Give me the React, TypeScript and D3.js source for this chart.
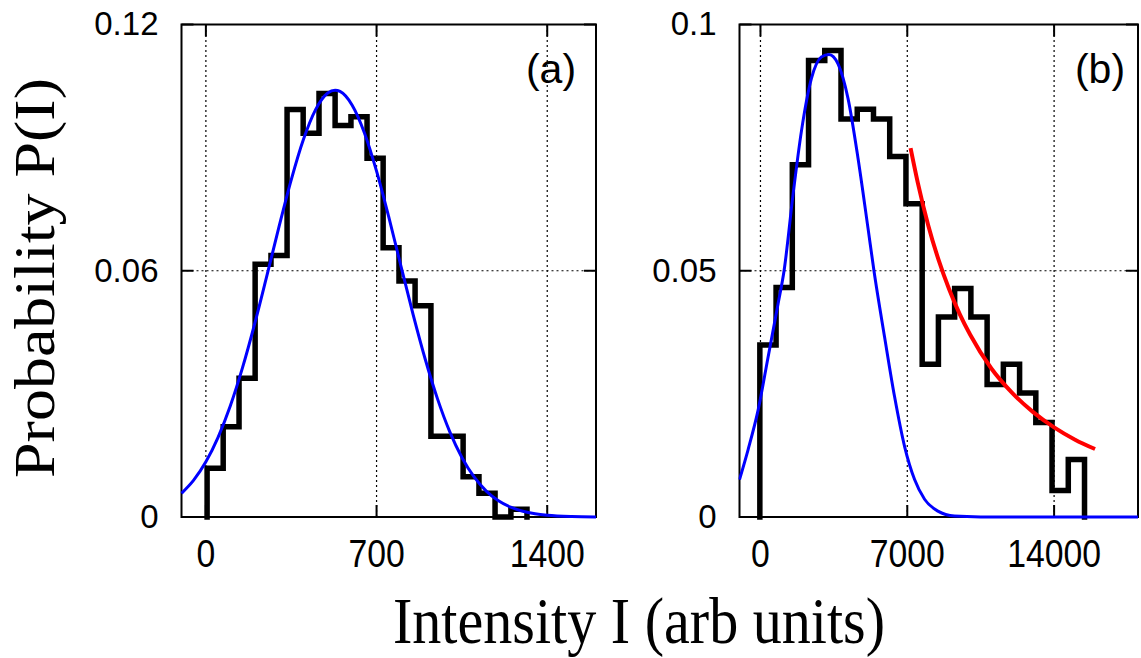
import React from "react";
import * as d3 from "d3";

// ---------- data ----------
// Panel (a): histogram bin edges and probabilities
const A_EDGES = [5, 71, 136, 202, 267, 333, 399, 464, 530, 595, 661, 727, 792, 858, 923, 989, 1055, 1120, 1186, 1251, 1317];
const A_PROB = [0.0119, 0.022, 0.0338, 0.0616, 0.0637, 0.0993, 0.0935, 0.1032, 0.0954, 0.0975, 0.0874, 0.0656, 0.0575, 0.0515, 0.0197, 0.0197, 0.0098, 0.0058, 0, 0.0019];
// Panel (a): blue fitted curve, read at sample intensities
const A_FIT_X = [-100, -50, 0, 50, 100, 150, 200, 250, 300, 350, 400, 450, 500, 530, 550, 600, 650, 700, 750, 800, 850, 900, 950, 1000, 1050, 1100, 1150, 1200, 1250, 1300, 1350, 1400, 1500, 1600];
const A_FIT_Y = [0.00577, 0.00898, 0.01344, 0.01942, 0.02705, 0.03633, 0.04704, 0.05876, 0.07074, 0.08214, 0.09196, 0.09927, 0.10332, 0.104, 0.1037, 0.10035, 0.09364, 0.08426, 0.0731, 0.06115, 0.04933, 0.03838, 0.02878, 0.02081, 0.01451, 0.00975, 0.00632, 0.00395, 0.00238, 0.00139, 0.00078, 0.00042, 0.00011, 0.00002];

// Panel (b): histogram
const B_EDGES = [-30, 744, 1518, 2292, 3066, 3840, 4614, 5388, 6162, 6936, 7710, 8484, 9258, 10032, 10806, 11580, 12354, 13128, 13902, 14676, 15450];
const B_PROB = [0.0349, 0.0466, 0.0715, 0.0927, 0.0947, 0.0808, 0.0828, 0.0808, 0.0732, 0.0636, 0.031, 0.0406, 0.0464, 0.0406, 0.0269, 0.031, 0.0252, 0.0192, 0.0054, 0.0117];
// Panel (b): blue curve
const B_FIT_X = [-1000, -589, -113, 364, 840, 1125, 1554, 1951, 2427, 2903, 3268, 3697, 4173, 4649, 5125, 5411, 5919, 6395, 6872, 7348, 7824, 8459, 9252, 10500, 12000, 18000];
const B_FIT_Y = [0.0076, 0.0137, 0.0217, 0.0325, 0.0433, 0.05, 0.0655, 0.0783, 0.089, 0.0934, 0.0939, 0.092, 0.085, 0.0729, 0.0587, 0.05, 0.0365, 0.0244, 0.0143, 0.0076, 0.0036, 0.0012, 0.0002, 0.00002, 0, 0];
// Panel (b): red tail curve
const B_TAIL_X = [7157, 7500, 8000, 8500, 9000, 9500, 10000, 11000, 12000, 13000, 14000, 15000, 15952];
const B_TAIL_Y = [0.0749, 0.0679, 0.0592, 0.0521, 0.0462, 0.0412, 0.037, 0.0302, 0.0252, 0.0213, 0.0182, 0.0157, 0.0138];

// Axis ticks
const A_XTICKS = [0, 700, 1400];
const A_YTICKS = [0, 0.06, 0.12];
const A_YLABELS = ["0", "0.06", "0.12"];
const B_XTICKS = [0, 7000, 14000];
const B_YTICKS = [0, 0.05, 0.1];
const B_YLABELS = ["0", "0.05", "0.1"];

const W = 1141;
const H = 658;
const TOP = 24.5;
const BOTTOM = 517;
const SANS = "'Liberation Sans', Arial, Helvetica, sans-serif";
const SERIF = "'Liberation Serif', 'Times New Roman', Times, serif";

type PanelProps = {
  id: string;
  left: number;
  right: number;
  xDomain: [number, number];
  yDomain: [number, number];
  edges: number[];
  probs: number[];
  fitX: number[];
  fitY: number[];
  tailX?: number[];
  tailY?: number[];
  xTicks: number[];
  yTicks: number[];
  yLabels: string[];
  label: string;
  labelX: number;
};

function Panel(p: PanelProps) {
  const x = d3.scaleLinear().domain(p.xDomain).range([p.left, p.right]);
  const y = d3.scaleLinear().domain(p.yDomain).range([BOTTOM, TOP]);
  const line = d3
    .line<[number, number]>()
    .x((d) => x(d[0]))
    .y((d) => y(d[1]));
  const smooth = d3
    .line<[number, number]>()
    .x((d) => x(d[0]))
    .y((d) => y(d[1]))
    .curve(d3.curveMonotoneX);

  const stepPts: [number, number][] = [[p.edges[0], 0]];
  p.probs.forEach((v, i) => {
    stepPts.push([p.edges[i], v]);
    stepPts.push([p.edges[i + 1], v]);
  });
  stepPts.push([p.edges[p.edges.length - 1], 0]);

  const fitPts: [number, number][] = p.fitX.map((v, i) => [v, p.fitY[i]]);
  const tailPts: [number, number][] | null =
    p.tailX && p.tailY ? p.tailX.map((v, i) => [v, p.tailY![i]]) : null;

  const tickLen = 12;
  const clipId = `clip-${p.id}`;
  return (
    <g>
      <defs>
        <clipPath id={clipId}>
          <rect x={p.left - 1} y={TOP - 3} width={p.right - p.left + 2} height={BOTTOM - TOP + 6} />
        </clipPath>
      </defs>
      {/* grid */}
      {p.xTicks.map((t) => (
        <line key={`gx${t}`} x1={x(t)} x2={x(t)} y1={BOTTOM} y2={TOP} stroke="#000" strokeWidth={1.2} strokeDasharray="2,3" />
      ))}
      {p.yTicks
        .filter((t) => t > p.yDomain[0] && t < p.yDomain[1])
        .map((t) => (
          <line key={`gy${t}`} x1={p.left} x2={p.right} y1={y(t)} y2={y(t)} stroke="#000" strokeWidth={1.2} strokeDasharray="2,3" />
        ))}
      {/* ticks */}
      {p.xTicks.map((t) => (
        <g key={`tx${t}`}>
          <line x1={x(t)} x2={x(t)} y1={BOTTOM} y2={BOTTOM - tickLen} stroke="#000" strokeWidth={2} />
          <line x1={x(t)} x2={x(t)} y1={TOP} y2={TOP + tickLen} stroke="#000" strokeWidth={2} />
          <text
            transform={`translate(${x(t)},567) scale(0.855,1)`}
            textAnchor="middle"
            fontFamily={SANS}
            fontSize={39.5}
            fill="#000"
          >
            {t}
          </text>
        </g>
      ))}
      {p.yTicks.map((t, i) => (
        <g key={`ty${t}`}>
          <line x1={p.left} x2={p.left + tickLen} y1={y(t)} y2={y(t)} stroke="#000" strokeWidth={2} />
          <line x1={p.right} x2={p.right - tickLen} y1={y(t)} y2={y(t)} stroke="#000" strokeWidth={2} />
          <text x={p.left - 23} y={y(t) + 10.8} textAnchor="end" fontFamily={SANS} fontSize={33} fill="#000">
            {p.yLabels[i]}
          </text>
        </g>
      ))}
      {/* frame */}
      <rect x={p.left} y={TOP} width={p.right - p.left} height={BOTTOM - TOP} fill="none" stroke="#000" strokeWidth={2} />
      <g clipPath={`url(#${clipId})`}>
        <path d={line(stepPts) || ""} fill="none" stroke="#000" strokeWidth={5.5} strokeLinejoin="miter" strokeLinecap="square" />
        <path d={smooth(fitPts) || ""} fill="none" stroke="#0000ff" strokeWidth={3} />
        {tailPts && <path d={smooth(tailPts) || ""} fill="none" stroke="#ff0000" strokeWidth={4} />}
      </g>
      <text x={p.labelX} y={83} textAnchor="middle" fontFamily={SANS} fontSize={41} fill="#000">
        {p.label}
      </text>
    </g>
  );
}

export default function App() {
  return (
    <svg
      width={W}
      height={H}
      viewBox={`0 0 ${W} ${H}`}
      style={{ position: "absolute", left: 0, top: 0, background: "#fff" }}
    >
      <rect x={0} y={0} width={W} height={H} fill="#fff" />
      <Panel
        id="a"
        left={181.5}
        right={596}
        xDomain={[-100, 1600]}
        yDomain={[0, 0.12]}
        edges={A_EDGES}
        probs={A_PROB}
        fitX={A_FIT_X}
        fitY={A_FIT_Y}
        xTicks={A_XTICKS}
        yTicks={A_YTICKS}
        yLabels={A_YLABELS}
        label="(a)"
        labelX={551}
      />
      <Panel
        id="b"
        left={739.5}
        right={1138}
        xDomain={[-1000, 18000]}
        yDomain={[0, 0.1]}
        edges={B_EDGES}
        probs={B_PROB}
        fitX={B_FIT_X}
        fitY={B_FIT_Y}
        tailX={B_TAIL_X}
        tailY={B_TAIL_Y}
        xTicks={B_XTICKS}
        yTicks={B_YTICKS}
        yLabels={B_YLABELS}
        label="(b)"
        labelX={1100}
      />
      <text
        transform="translate(639,643) scale(0.894,1)"
        textAnchor="middle"
        fontFamily={SERIF}
        fontSize={65}
        fill="#000"
      >
        Intensity I (arb units)
      </text>
      <text
        transform="translate(54,278) rotate(-90) scale(1,0.89)"
        textAnchor="middle"
        fontFamily={SERIF}
        fontSize={64}
        fill="#000"
      >
        Probability P(I)
      </text>
    </svg>
  );
}
